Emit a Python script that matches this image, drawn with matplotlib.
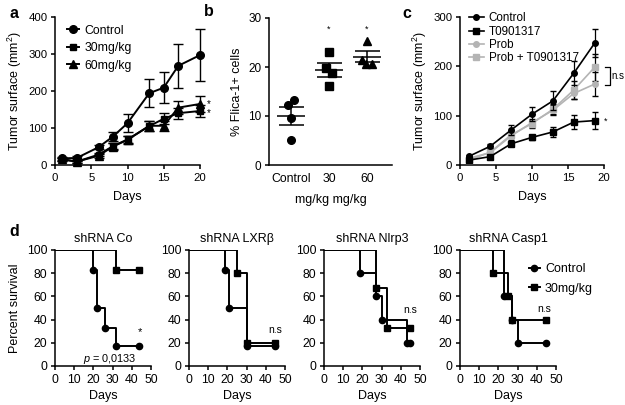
import matplotlib
matplotlib.use("Agg")
import matplotlib.pyplot as plt

plt.rcParams['font.family'] = ['Liberation Sans', 'DejaVu Sans']
plt.rcParams['mathtext.fontset'] = 'custom'
plt.rcParams['mathtext.rm'] = 'Liberation Sans'
plt.rcParams['mathtext.it'] = 'Liberation Sans:italic'
plt.rcParams['font.size'] = 9
plt.rcParams['axes.linewidth'] = 1.1
plt.rcParams['xtick.major.width'] = 1.1
plt.rcParams['ytick.major.width'] = 1.1
plt.rcParams['xtick.major.size'] = 3
plt.rcParams['ytick.major.size'] = 3
plt.rcParams['xtick.major.pad'] = 2.5
plt.rcParams['ytick.major.pad'] = 2.5

# panel a: tumour growth
days_a = [1, 3, 6, 8, 10, 13, 15, 17, 20]
ctrl_a = [18, 19, 48, 77, 113, 194, 209, 268, 297]
ctrl_a_err = [4, 4, 6, 12, 24, 38, 42, 60, 70]
mg30_a = [16, 9, 28, 51, 69, 105, 125, 140, 146]
mg30_a_err = [4, 3, 5, 9, 10, 14, 15, 15, 16]
mg60_a = [15, 9, 25, 50, 68, 106, 106, 155, 165]
mg60_a_err = [4, 3, 5, 9, 10, 14, 14, 18, 22]

# panel b: Flica-1+ cells
groups_b = ['Control', '30', '60']
ctrl_b = [13.2, 12.3, 9.5, 5.2]
mg30_b = [23.1, 19.7, 18.8, 16.2]
mg60_b = [25.4, 21.5, 20.7, 20.7]
jitter_b = [[0.07, -0.09, 0.0, 0.0], [0.0, -0.09, 0.09, 0.0], [0.0, -0.13, -0.02, 0.13]]
means_b = [10.0, 19.4, 22.1]
sems_b = [1.8, 1.4, 1.1]

# panel c: T0901317 / probenecid
days_c = [1.3, 4.2, 7.1, 10, 12.9, 15.8, 18.7]
ctrl_c = [18, 38, 71, 103, 130, 186, 247]
ctrl_c_err = [3, 4, 11, 14, 19, 24, 28]
t09_c = [10, 17, 43, 56, 67, 87, 90]
t09_c_err = [2, 3, 5, 5, 10, 15, 18]
prob_c = [14, 25, 59, 86, 111, 145, 164]
prob_c_err = [3, 4, 8, 8, 10, 12, 25]
probt_c = [10, 26, 61, 84, 113, 152, 198]
probt_c_err = [3, 4, 6, 8, 10, 18, 28]

# panel d: survival curves
titles_d = ['shRNA Co', 'shRNA LXR\u03b2', 'shRNA Nlrp3', 'shRNA Casp1']
surv_ctrl_t = [[0, 20, 22, 26, 32, 44], [0, 19, 21, 30, 45], [0, 19, 27, 30, 43, 45], [0, 23, 27, 30, 45]]
surv_ctrl_v = [[100, 83, 50, 33, 17, 17], [100, 83, 50, 17, 17], [100, 80, 60, 40, 20, 20], [100, 60, 40, 20, 20]]
surv_trt_t = [[0, 32, 44], [0, 25, 30, 45], [0, 27, 33, 45], [0, 17, 25, 27, 45]]
surv_trt_v = [[100, 83, 83], [100, 80, 20, 20], [100, 67, 33, 33], [100, 80, 60, 40, 40]]
notes_d = ['*', 'n.s', 'n.s', 'n.s']
note_pos_d = [(44, 29), (45, 31), (45, 48), (44, 49)]

W, H = 625, 405
fig = plt.figure(figsize=(W / 100, H / 100), dpi=100)


def px_axes(l, t, r, b):
    ax = fig.add_axes([l / W, 1 - b / H, (r - l) / W, (b - t) / H])
    ax.spines['top'].set_visible(False)
    ax.spines['right'].set_visible(False)
    ax.tick_params(direction='out')
    return ax


# ---- a
ax = px_axes(55, 17, 200, 165)
ax.errorbar(days_a, ctrl_a, yerr=ctrl_a_err, color='k', marker='o', ms=5.5, lw=1.4,
            capsize=3.5, elinewidth=1, label='Control', clip_on=False, zorder=3)
ax.errorbar(days_a, mg30_a, yerr=mg30_a_err, color='k', marker='s', ms=5, lw=1.4,
            capsize=3.5, elinewidth=1, label='30mg/kg', clip_on=False, zorder=3)
ax.errorbar(days_a, mg60_a, yerr=mg60_a_err, color='k', marker='^', ms=5.5, lw=1.4,
            capsize=3.5, elinewidth=1, label='60mg/kg', clip_on=False, zorder=3)
ax.set_xlim(0, 20)
ax.set_ylim(0, 400)
ax.set_xticks([0, 5, 10, 15, 20])
ax.set_yticks([0, 100, 200, 300, 400])
ax.tick_params(labelsize=8.2)
ax.set_xlabel('Days', labelpad=6)
ax.set_ylabel('Tumor surface (mm$^{2}$)', labelpad=3)
ax.text(21.0, 165, '*', fontsize=7, va='center', clip_on=False)
ax.text(21.0, 140, '*', fontsize=7, va='center', clip_on=False)
handles, labels = ax.get_legend_handles_labels()
handles = [h[0] for h in handles]
ax.legend(handles, labels, loc='upper left', bbox_to_anchor=(0.04, 0.99), frameon=False,
          handlelength=1.0, handletextpad=0.45, labelspacing=0.45, borderpad=0, fontsize=8.8)

# ---- b
ax = px_axes(269, 18, 392, 165)
markers_b = ['o', 's', '^']
for i, vals in enumerate([ctrl_b, mg30_b, mg60_b]):
    xs = [i + j for j in jitter_b[i]]
    ax.plot(xs, vals, linestyle='none', marker=markers_b[i], color='k', ms=5.5, zorder=3)
    ax.hlines(means_b[i], i - 0.38, i + 0.38, color='k', lw=1.1)
    ax.errorbar([i], [means_b[i]], yerr=[sems_b[i]], color='k', capsize=9, elinewidth=1.1,
                capthick=1.1, fmt='none')
ax.set_xlim(-0.58, 2.66)
ax.set_ylim(0, 30)
ax.set_yticks([0, 10, 20, 30])
ax.set_xticks(range(3))
ax.set_xticklabels(groups_b)
ax.tick_params(axis='y', labelsize=8.5)
ax.tick_params(axis='x', length=0, pad=6, labelsize=8.8)
ax.set_xlabel('mg/kg mg/kg', labelpad=6)
ax.set_ylabel('% Flica-1+ cells', labelpad=4)
ax.text(1, 27.8, '*', ha='center', va='center', fontsize=6.5)
ax.text(2, 27.8, '*', ha='center', va='center', fontsize=6.5)

# ---- c
ax = px_axes(460, 17, 604, 165)
gray = '#b4b4b4'
ax.errorbar(days_c, ctrl_c, yerr=ctrl_c_err, color='k', marker='o', ms=4, lw=1.2,
            capsize=2.5, elinewidth=0.9, label='Control', zorder=4)
ax.errorbar(days_c, t09_c, yerr=t09_c_err, color='k', marker='s', ms=4, lw=1.2,
            capsize=2.5, elinewidth=0.9, label='T0901317', zorder=4)
ax.errorbar(days_c, prob_c, yerr=prob_c_err, color=gray, marker='o', ms=4, lw=1.2,
            capsize=2.5, elinewidth=0.9, label='Prob', zorder=3, ecolor='k')
ax.errorbar(days_c, probt_c, yerr=probt_c_err, color=gray, marker='s', ms=4, lw=1.2,
            capsize=2.5, elinewidth=0.9, label='Prob + T0901317', zorder=3, ecolor='k')
ax.set_xlim(0, 20)
ax.set_ylim(0, 300)
ax.set_xticks([0, 5, 10, 15, 20])
ax.set_yticks([0, 100, 200, 300])
ax.tick_params(labelsize=8.2)
ax.set_xlabel('Days', labelpad=6)
ax.set_ylabel('Tumor surface (mm$^{2}$)', labelpad=3)
ax.plot([20.1, 20.8, 20.8, 20.1], [198, 198, 162, 162], color='k', lw=0.9, clip_on=False)
ax.text(21.05, 180, 'n.s', fontsize=7, va='center', clip_on=False)
ax.text(20.0, 88, '*', fontsize=6.5, va='center', clip_on=False)
handles, labels = ax.get_legend_handles_labels()
handles = [h[0] for h in handles]
ax.legend(handles, labels, loc='upper left', bbox_to_anchor=(0.02, 1.07), frameon=False,
          handlelength=1.3, handletextpad=0.4, labelspacing=0.1, borderpad=0, fontsize=8.4)

# ---- d
lefts_d = [55, 189, 324, 460]
for k in range(4):
    ax = px_axes(lefts_d[k], 250, lefts_d[k] + 96, 366)
    ax.step(surv_ctrl_t[k], surv_ctrl_v[k], where='post', color='k', lw=1.4, zorder=3)
    ax.plot(surv_ctrl_t[k][1:], surv_ctrl_v[k][1:], linestyle='none', marker='o', color='k',
            ms=4.5, zorder=4, clip_on=False)
    ax.step(surv_trt_t[k], surv_trt_v[k], where='post', color='k', lw=1.4, zorder=3)
    ax.plot(surv_trt_t[k][1:], surv_trt_v[k][1:], linestyle='none', marker='s', color='k',
            ms=4.5, zorder=4, clip_on=False)
    ax.set_xlim(0, 50)
    ax.set_ylim(0, 100)
    ax.set_xticks([0, 10, 20, 30, 40, 50])
    ax.set_yticks([0, 20, 40, 60, 80, 100])
    ax.tick_params(labelsize=8.8)
    ax.set_title(titles_d[k], fontsize=9, pad=6)
    ax.set_xlabel('Days', labelpad=3)
    x, y = note_pos_d[k]
    ax.text(x, y, notes_d[k], ha='center', va='center', fontsize=7.5 if k else 8)
    if k == 0:
        ax.set_ylabel('Percent survival', labelpad=4)
        ax.text(28.5, 6, '$p$ = 0,0133', ha='center', va='center', fontsize=7.8)
    if k == 3:
        h1, = ax.plot([], [], color='k', marker='o', ms=4.5, lw=1.4)
        h2, = ax.plot([], [], color='k', marker='s', ms=4.5, lw=1.4)
        ax.legend([h1, h2], ['Control', '30mg/kg'], loc='upper left', bbox_to_anchor=(0.65, 0.94),
                  frameon=False, handlelength=0.9, handletextpad=0.4, labelspacing=0.6,
                  borderpad=0, fontsize=9)

for letter, (x, y) in zip('abcd', [(9, 13), (204, 11), (402, 13), (9, 232)]):
    fig.text(x / W, 1 - y / H, letter, fontsize=11.5, fontweight='bold', va='center')

fig.savefig('out.png', dpi=100)
